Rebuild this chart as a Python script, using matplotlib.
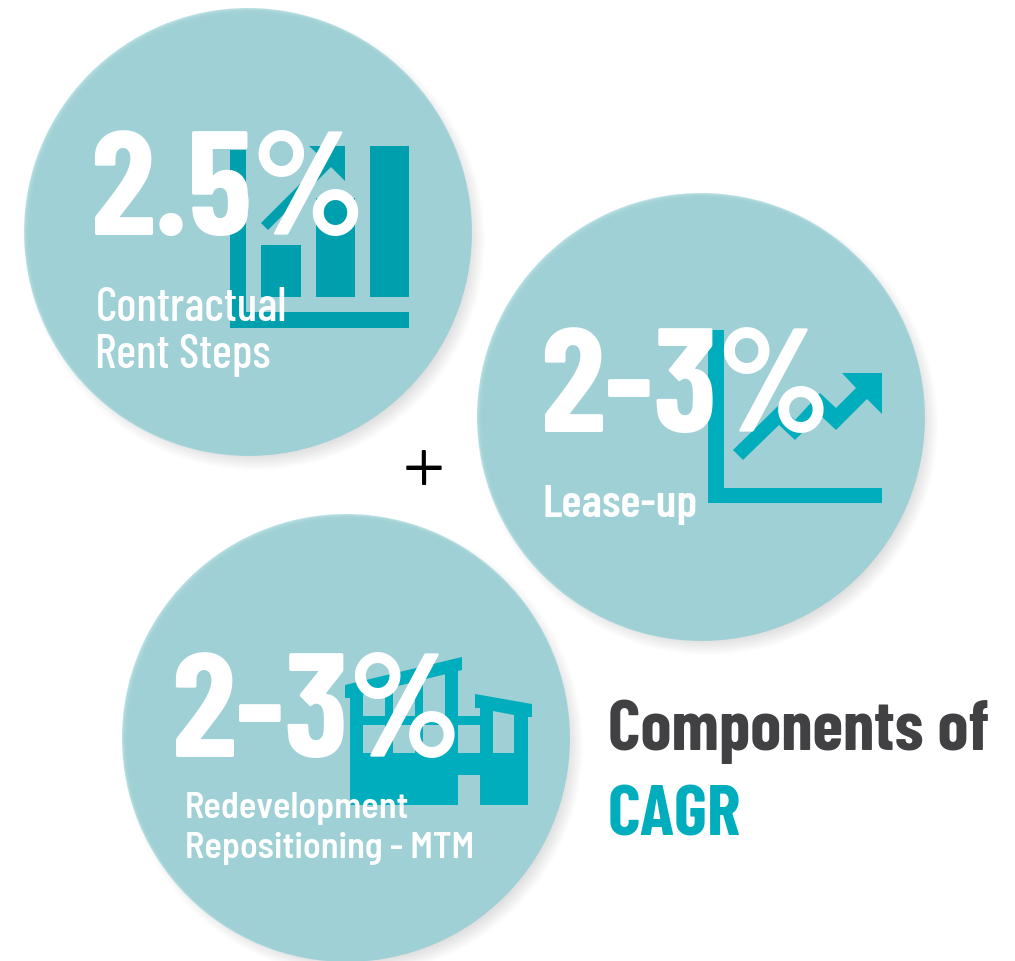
import matplotlib
matplotlib.use('Agg')
import matplotlib.pyplot as plt
from matplotlib.patches import Circle, Polygon, Rectangle

plt.rcParams['font.family'] = ['Barlow Condensed', 'DejaVu Sans']

# the three components
big_labels = ['2.5%', '2-3%', '2-3%']
sub_labels = [['Contractual', 'Rent Steps'], ['Lease-up'], ['Redevelopment', 'Repositioning - MTM']]
title_lines = ['Components of', 'CAGR']

BUBBLE = '#9fd0d5'
RIM = '#b9e0e3'
TEAL_DARK = '#009fae'
TEAL = '#00adbd'
DARK = '#414042'

fig = plt.figure(figsize=(10.15, 9.61), dpi=100)
ax = fig.add_axes([0, 0, 1, 1])
ax.set_xlim(0, 1015)
ax.set_ylim(961, 0)
ax.axis('off')


def bubble(cx, cy, r=224):
    # soft shadow, stacked rings
    for i in range(16):
        ax.add_patch(Circle((cx + 7, cy + 8), r + 6 - i, fc='black', ec='none', alpha=0.008, zorder=1))
    # pale rim on the upper left
    ax.add_patch(Circle((cx, cy), r, fc=RIM, ec='none', zorder=2))
    for i in range(1, 8):
        ax.add_patch(Circle((cx + i * 0.4, cy + i * 0.4), r - i * 0.56, fc=BUBBLE, ec='none', alpha=0.4, zorder=2))


bubble(248, 232)
bubble(701, 417)
bubble(346, 738)

# bar chart icon
for x0, y0, x1, y1 in [(230, 150, 246, 328), (230, 312, 409, 328), (261, 245, 301, 297),
                       (316, 198, 355, 297), (370, 146, 409, 297)]:
    ax.add_patch(Rectangle((x0, y0), x1 - x0, y1 - y0, fc=TEAL_DARK, ec='none', zorder=3))
ax.add_patch(Polygon([(261, 223), (324, 160), (309, 146), (345, 146), (345, 181), (331, 167), (268, 230)],
                     fc=TEAL_DARK, ec='none', zorder=3))

# line chart icon
for x0, y0, x1, y1 in [(708, 330, 724, 503), (708, 488, 882, 503)]:
    ax.add_patch(Rectangle((x0, y0), x1 - x0, y1 - y0, fc=TEAL, ec='none', zorder=3))
ax.add_patch(Polygon([(733, 450), (779, 405), (795, 420), (820, 393), (836, 408), (856, 388), (842, 373),
                      (882, 373), (882, 414), (867, 399), (836, 430), (820, 415), (795, 440), (779, 425),
                      (743, 460)], fc=TEAL, ec='none', zorder=3))

# building icon
ax.add_patch(Polygon([(345, 685), (462, 657), (462, 670), (458, 671), (458, 716), (480, 716), (480, 708),
                      (475, 708), (475, 694), (532, 704), (532, 717), (528, 717), (528, 805), (480, 805),
                      (480, 775), (458, 775), (458, 805), (350, 805), (350, 698), (345, 698)],
                     fc=TEAL, ec='none', zorder=3))
for x0, x1 in [(363, 385), (393, 415), (423, 445)]:
    ax.add_patch(Polygon([(x0, 698 - 0.25 * (x0 - 350)), (x1, 698 - 0.25 * (x1 - 350)), (x1, 716), (x0, 716)],
                         fc=BUBBLE, ec='none', zorder=4))
for x0, x1 in [(363, 385), (393, 415), (423, 445), (458, 480)]:
    ax.add_patch(Rectangle((x0, 725), x1 - x0, 28, fc=BUBBLE, ec='none', zorder=4))
ax.add_patch(Polygon([(493, 711), (514, 715), (514, 753), (493, 753)], fc=BUBBLE, ec='none', zorder=4))

# big numbers
big_pos = [(90, 235.5), (540.5, 432), (171, 757)]
for s, (x, y) in zip(big_labels, big_pos):
    ax.text(x, y, s, color='white', fontsize=106, fontweight=700, ha='left', va='baseline', zorder=5)

# captions
ax.text(95.5, 321, sub_labels[0][0], color='white', fontsize=34, fontweight=500, ha='left', va='baseline', zorder=6)
ax.text(95.5, 368, sub_labels[0][1], color='white', fontsize=34, fontweight=500, ha='left', va='baseline', zorder=6)
ax.text(543, 517, sub_labels[1][0], color='white', fontsize=33.8, fontweight=600, ha='left', va='baseline', zorder=6)
ax.text(185, 818, sub_labels[2][0], color='white', fontsize=26, fontweight=600, family=['Barlow Semi Condensed'],
        ha='left', va='baseline', zorder=6)
ax.text(185, 858, sub_labels[2][1], color='white', fontsize=26, fontweight=600, family=['Barlow Semi Condensed'],
        ha='left', va='baseline', zorder=6)

ax.text(424, 473.5, '+', color='black', fontsize=68, fontweight=300, ha='center', va='center', zorder=6)

ax.text(608, 750, title_lines[0], color=DARK, fontsize=50.5, fontweight=700, ha='left', va='baseline')
ax.text(608, 835, title_lines[1], color=TEAL, fontsize=51, fontweight=700, ha='left', va='baseline')

fig.savefig('out.png', dpi=100, facecolor='white')
